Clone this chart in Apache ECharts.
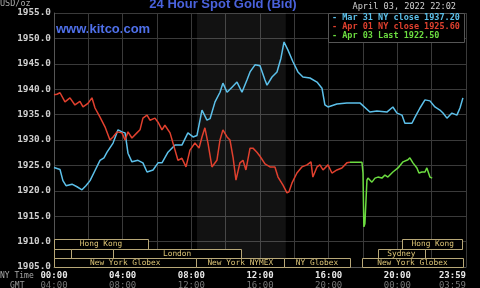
<!DOCTYPE html>
<html>
<head>
<meta charset="utf-8">
<script src="https://cdn.jsdelivr.net/npm/echarts@6/dist/echarts.min.js"></script>
<style>
html,body{margin:0;padding:0;background:#000;}
#c{width:480px;height:288px;}
</style>
</head>
<body>
<div id="c"></div>
<script>
// ---- data ----
const blueHours = [0.00,0.35,0.52,0.70,1.05,1.34,1.63,1.86,2.10,2.39,2.68,2.91,3.09,3.44,3.73,3.96,4.14,4.31,4.54,4.89,5.18,5.42,5.77,6.06,6.29,6.64,7.05,7.45,7.80,8.10,8.33,8.62,8.91,9.09,9.38,9.67,9.84,10.08,10.37,10.66,10.95,11.24,11.42,11.71,12.00,12.29,12.41,12.70,12.99,13.22,13.40,13.63,13.92,14.21,14.50,14.91,15.32,15.61,15.78,15.96,16.48,17.06,17.82,18.40,18.81,19.39,19.74,19.98,20.27,20.44,20.85,21.03,21.32,21.61,21.90,22.19,22.48,22.66,22.89,23.18,23.47,23.65,23.82];
const blueValues = [1924.6,1924.2,1922.0,1921.0,1921.3,1920.8,1920.2,1921.0,1922.0,1924.0,1926.0,1926.5,1927.6,1929.4,1932.0,1931.6,1931.4,1927.4,1925.7,1926.0,1925.5,1923.7,1924.1,1925.5,1925.5,1927.6,1929.0,1929.0,1931.4,1930.6,1930.9,1935.9,1933.9,1934.2,1937.5,1939.4,1941.2,1939.4,1940.4,1941.4,1939.4,1941.8,1943.4,1944.8,1944.6,1941.8,1940.8,1942.4,1943.4,1946.1,1949.3,1947.7,1945.4,1943.4,1942.4,1942.2,1941.4,1940.2,1936.9,1936.5,1937.1,1937.3,1937.3,1935.5,1935.7,1935.5,1936.5,1935.3,1934.9,1933.3,1933.3,1934.5,1936.3,1937.9,1937.7,1936.5,1935.9,1935.3,1934.3,1935.3,1934.9,1936.3,1938.3];

const redHours = [0.00,0.17,0.35,0.64,0.93,1.22,1.51,1.69,1.98,2.21,2.39,2.68,2.97,3.26,3.44,3.67,3.96,4.14,4.31,4.54,4.83,5.01,5.18,5.42,5.59,5.88,6.06,6.29,6.46,6.76,7.05,7.22,7.45,7.69,7.92,8.21,8.45,8.62,8.79,8.97,9.20,9.49,9.67,9.84,10.08,10.25,10.43,10.60,10.83,11.01,11.18,11.42,11.59,11.82,12.00,12.29,12.58,12.87,13.05,13.34,13.57,13.69,13.86,14.15,14.44,14.74,14.97,15.08,15.32,15.49,15.67,15.96,16.19,16.48,16.77,17.06,17.24];
const redValues = [1938.9,1939.0,1939.3,1937.5,1938.3,1936.9,1937.6,1936.5,1937.2,1938.3,1936.3,1934.5,1932.6,1930.0,1930.6,1931.6,1931.4,1930.0,1931.6,1930.4,1931.4,1932.0,1934.3,1934.9,1933.9,1934.3,1933.5,1932.0,1932.9,1931.4,1928.0,1926.0,1926.4,1924.7,1928.0,1929.4,1928.4,1930.6,1932.4,1929.4,1924.7,1926.0,1930.0,1932.0,1930.6,1930.0,1926.6,1922.1,1925.5,1926.0,1924.1,1928.4,1928.4,1927.6,1926.8,1925.3,1924.7,1924.7,1922.7,1921.1,1919.6,1919.8,1921.5,1923.5,1924.7,1925.1,1925.7,1922.7,1924.7,1925.1,1924.1,1925.1,1923.5,1924.1,1924.5,1925.5,1925.6];

const greenHours = [17.24,17.94,18.00,18.05,18.11,18.23,18.29,18.52,18.70,18.87,19.10,19.28,19.45,19.74,20.04,20.33,20.44,20.62,20.73,20.91,21.14,21.26,21.43,21.61,21.72,21.90,22.03];
const greenValues = [1925.6,1925.6,1923.5,1912.9,1913.5,1922.1,1922.5,1921.7,1922.5,1922.7,1922.5,1923.1,1922.7,1923.7,1924.5,1925.7,1925.5,1926.1,1926.5,1925.5,1924.5,1923.5,1923.7,1923.7,1924.5,1922.7,1922.5];

const legendLabels = ['- Mar 31 NY close 1937.20','- Apr 01 NY close 1925.60','- Apr 03 Last 1922.50'];
const nyTickLabels = ['00:00','04:00','08:00','12:00','16:00','20:00','23:59'];
const gmtTickLabels = ['04:00','08:00','12:00','16:00','20:00','00:00','03:59'];

// sessions: [startHour, endHour, row, name]
const sessionStart = [0, 20.3, 0, 1.0, 3.44, 18.87, 0, 8.3, 13.4, 17.94];
const sessionEnd   = [5.47, 23.82, 1.0, 3.44, 10.9, 21.6, 8.3, 13.4, 17.24, 23.82];
const sessionRow   = [0, 0, 1, 1, 1, 1, 2, 2, 2, 2];
const sessionName  = ['Hong Kong','Hong Kong','','','London','Sydney','New York Globex','New York NYMEX','NY Globex','New York Globex'];

const shadeStart = 8.33, shadeEnd = 13.5;

const yMin = 1905, yMax = 1955, yStep = 5;

// ---- chart ----
const chart = echarts.init(document.getElementById('c'), null, {renderer:'canvas'});
const pair = (xs, ys) => xs.map((x,i)=>[x, ys[i]]);
const mono = '"DejaVu Sans Mono", monospace';

const rowTop = [1910.5, 1908.6, 1906.7];
const rowBot = [1908.6, 1906.7, 1904.9];

const sessionData = sessionStart.map((s,i)=>[s, sessionEnd[i], sessionRow[i], sessionName[i]]);

const option = {
  backgroundColor: '#000',
  animation: false,
  grid: {left: 54, right: 14, top: 13, bottom: 21, containLabel: false, outerBoundsMode: 'none'},
  xAxis: {
    type: 'value', min: 0, max: 24, interval: 2,
    axisLine: {show: true, lineStyle: {color: '#555'}},
    axisTick: {show: false},
    splitLine: {show: true, lineStyle: {color: '#3a3a3a', width: 1}},
    axisLabel: {
      margin: 4,
      alignMaxLabel: 'right',
      formatter: function(v){
        if (v % 4 !== 0) return '';
        const k = v/4;
        return '{n|' + nyTickLabels[k] + '}\n{g|' + gmtTickLabels[k] + '}';
      },
      rich: {
        n: {color: '#e8e8e8', fontFamily: mono, fontSize: 9, fontWeight: 'bold', lineHeight: 10},
        g: {color: '#777', fontFamily: mono, fontSize: 9, lineHeight: 10}
      }
    }
  },
  yAxis: {
    type: 'value', min: yMin, max: yMax, interval: yStep,
    axisLine: {show: true, lineStyle: {color: '#555'}},
    axisTick: {show: false},
    splitLine: {show: true, lineStyle: {color: '#3a3a3a', width: 1}},
    axisLabel: {
      margin: 3,
      color: '#cfcfcf', fontFamily: mono, fontSize: 9.4, fontWeight: 'bold',
      formatter: v => v.toFixed(1)
    }
  },
  series: [
    {
      type: 'line', data: pair(blueHours, blueValues), showSymbol: false,
      lineStyle: {color: '#5cc0ea', width: 1.5}, z: 3,
      markArea: {
        silent: true,
        itemStyle: {color: 'rgba(255,255,255,0.07)'},
        data: [[{xAxis: shadeStart}, {xAxis: shadeEnd}]]
      }
    },
    {
      type: 'line', data: pair(redHours, redValues), showSymbol: false,
      lineStyle: {color: '#e0402e', width: 1.5}, z: 3
    },
    {
      type: 'line', data: pair(greenHours, greenValues), showSymbol: false,
      lineStyle: {color: '#6cdc40', width: 1.5}, z: 4
    },
    {
      type: 'custom', z: 5,
      data: sessionData,
      renderItem: function(params, api){
        const s = api.value(0), e = api.value(1), r = api.value(2);
        const name = sessionName[params.dataIndex];
        const p1 = api.coord([s, rowTop[r]]);
        const p2 = api.coord([e, rowBot[r]]);
        const children = [{
          type: 'rect',
          shape: {x: Math.round(p1[0])+0.5, y: Math.round(p1[1])+0.5, width: Math.round(p2[0]-p1[0]), height: Math.round(p2[1]-p1[1])},
          style: {fill: '#000', stroke: '#b8a878', lineWidth: 1}
        }];
        if (name) {
          children.push({
            type: 'text',
            style: {
              text: name, x: (p1[0]+p2[0])/2, y: (p1[1]+p2[1])/2 + 0.5,
              align: 'center', verticalAlign: 'middle',
              fill: '#dcc476', font: '7.8px ' + mono
            }
          });
        }
        return {type: 'group', children: children};
      }
    }
  ],
  graphic: [
    {type: 'text', left: 0, top: -1, style: {text: 'USD/oz', fill: '#aaa', font: '8.5px ' + mono}},
    {type: 'text', x: 223, y: 4, style: {text: '24 Hour Spot Gold (Bid)', fill: '#4a62dc', font: 'bold 13px "Liberation Sans", Arial', align: 'center', verticalAlign: 'middle'}},
    {type: 'text', x: 56, y: 29, style: {text: 'www.kitco.com', fill: '#4f70ea', font: 'bold 13px "Liberation Sans", Arial', verticalAlign: 'middle'}},
    {type: 'text', x: 456, y: 7, style: {text: 'April 03, 2022 22:02', fill: '#d0d0d0', font: '8.6px ' + mono, align: 'right', verticalAlign: 'middle'}},
    {type: 'rect', shape: {x: 328.5, y: 13.5, width: 136, height: 29}, style: {fill: '#000', stroke: '#555', lineWidth: 1}, z: 10},
    {type: 'text', x: 332, y: 18, z: 11, style: {text: legendLabels[0], fill: '#5cc0ea', font: 'bold 8.5px ' + mono, verticalAlign: 'middle'}},
    {type: 'text', x: 332, y: 27, z: 11, style: {text: legendLabels[1], fill: '#e0402e', font: 'bold 8.5px ' + mono, verticalAlign: 'middle'}},
    {type: 'text', x: 332, y: 36, z: 11, style: {text: legendLabels[2], fill: '#6cdc40', font: 'bold 8.5px ' + mono, verticalAlign: 'middle'}},
    {type: 'text', x: 0, y: 276, style: {text: 'NY Time', fill: '#aaa', font: '8px ' + mono, verticalAlign: 'middle'}},
    {type: 'text', x: 10, y: 286, style: {text: 'GMT', fill: '#999', font: '8px ' + mono, verticalAlign: 'middle'}}
  ]
};
chart.setOption(option);
</script>
</body>
</html>
